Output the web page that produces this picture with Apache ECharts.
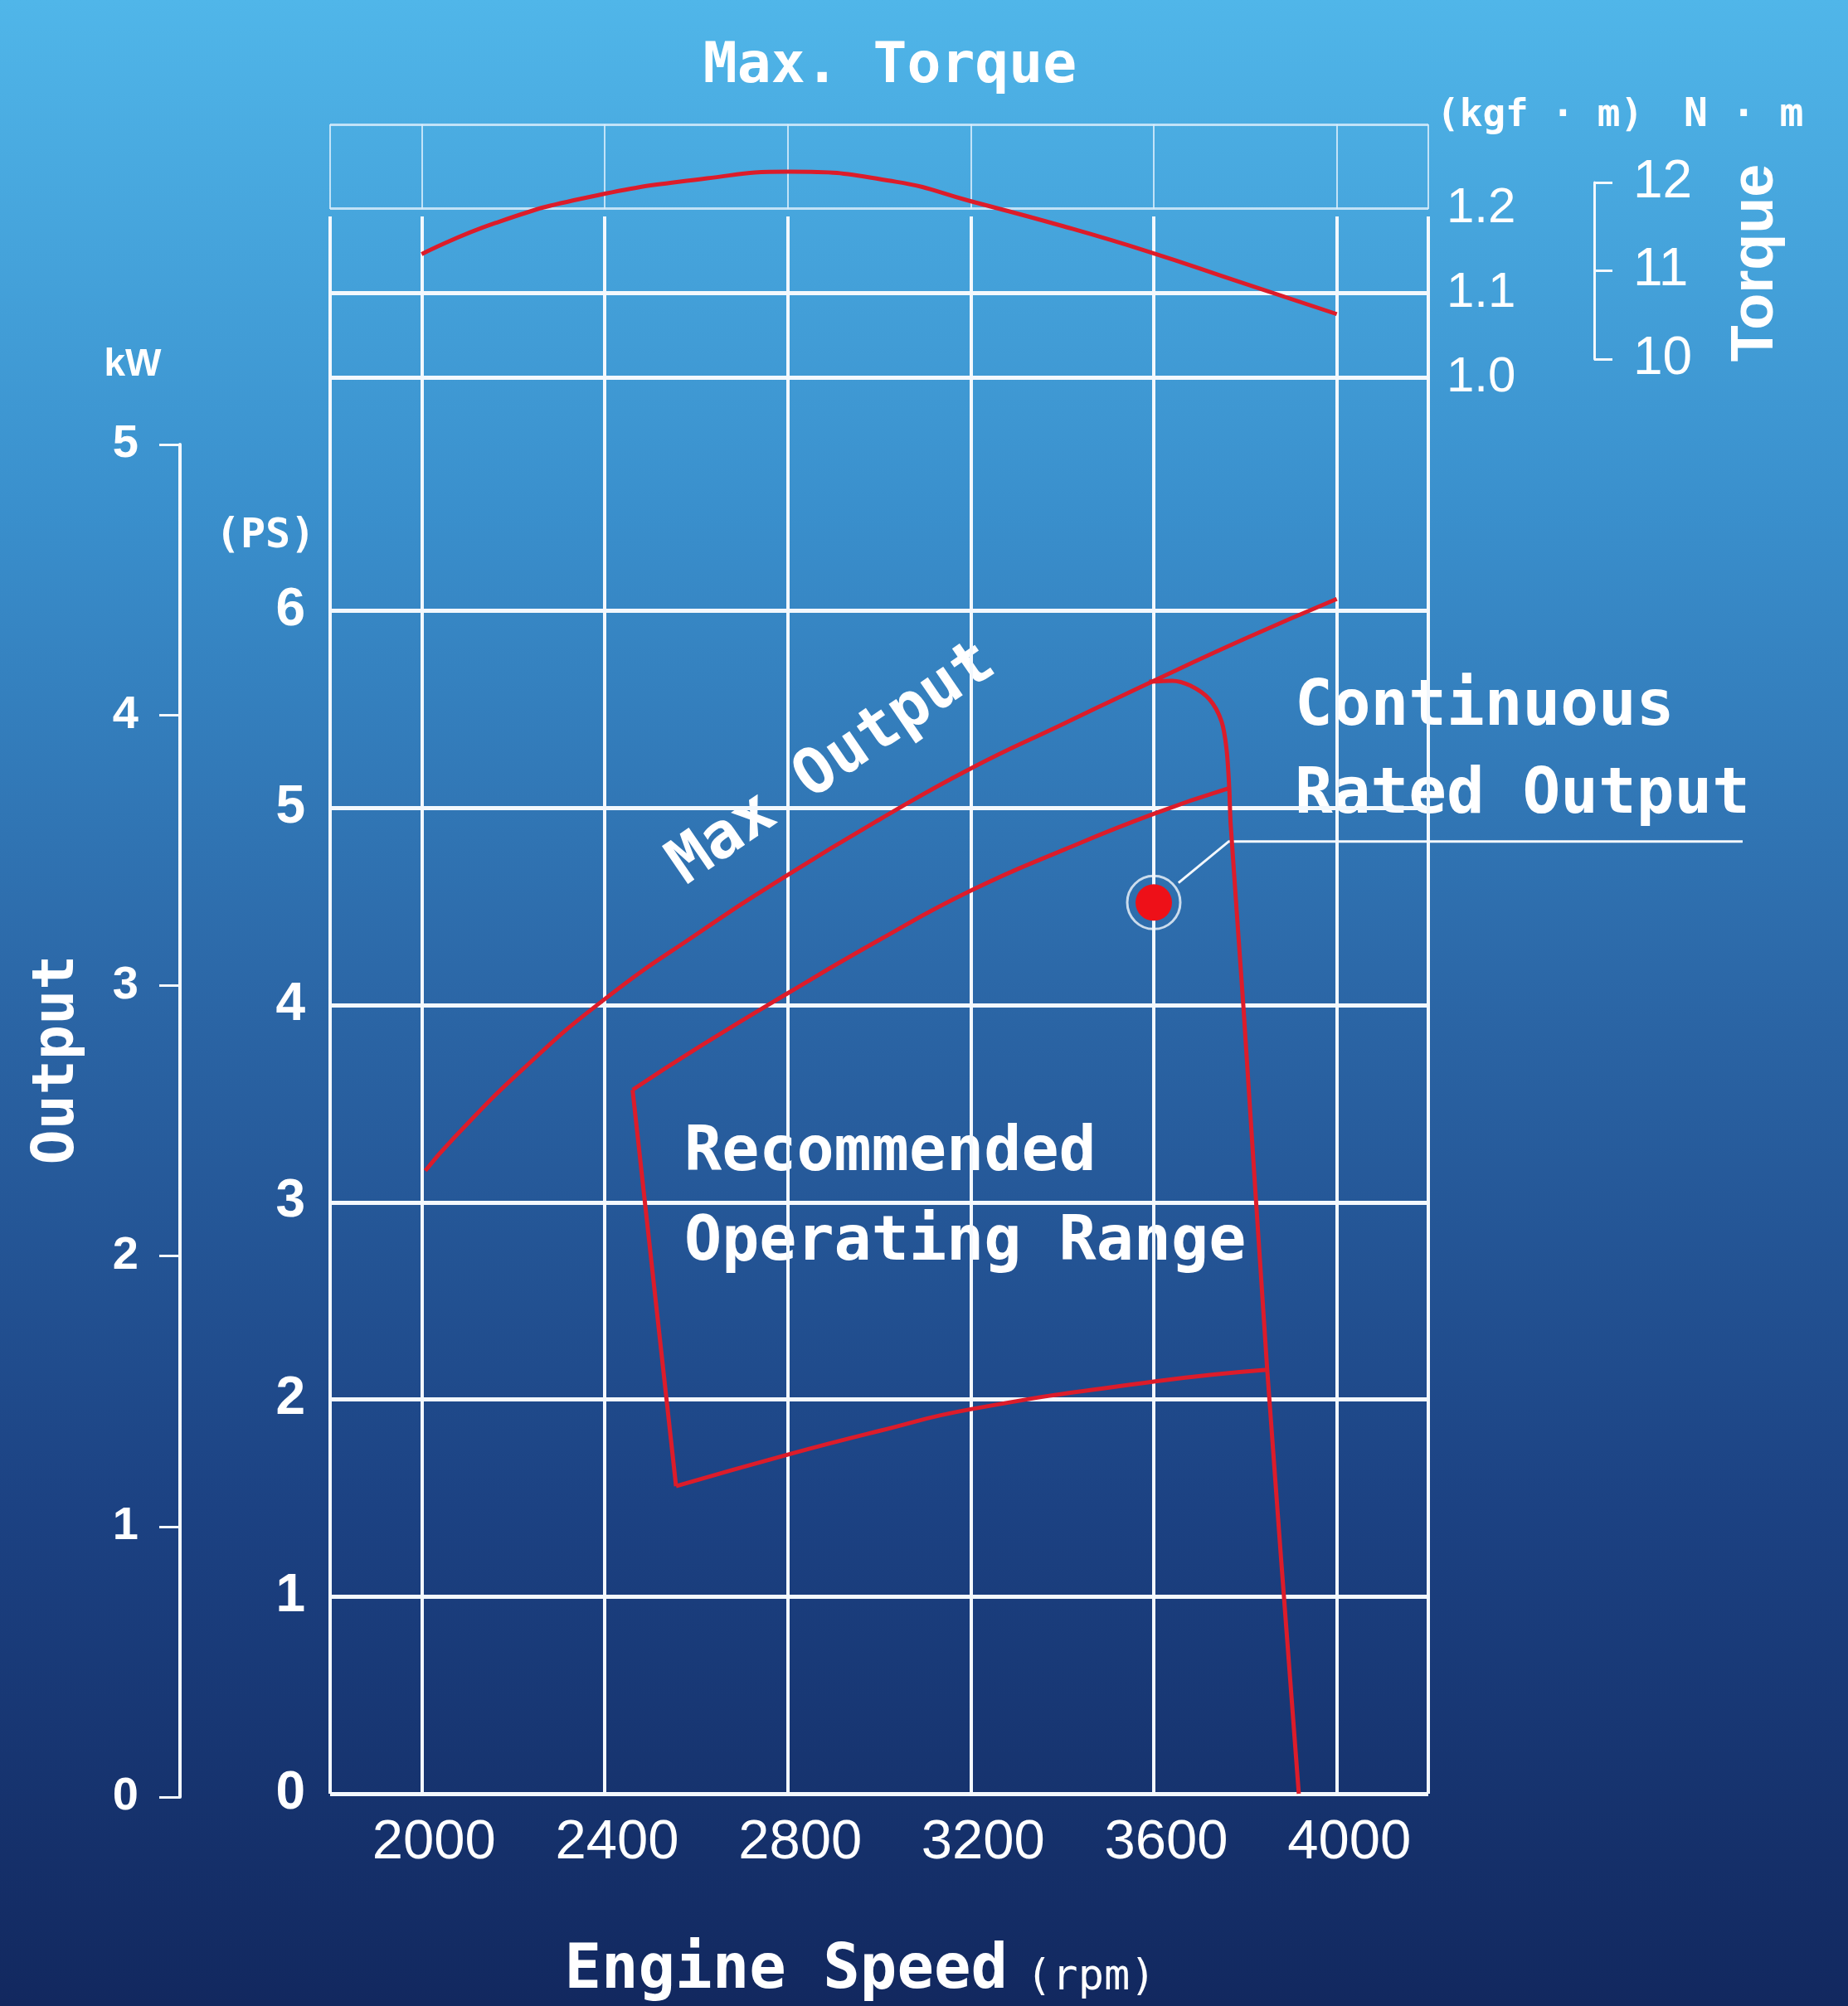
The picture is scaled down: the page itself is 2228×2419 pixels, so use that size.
<!DOCTYPE html>
<html>
<head>
<meta charset="utf-8">
<script src="https://cdn.jsdelivr.net/npm/echarts@6/dist/echarts.min.js"></script>
<style>
html,body{margin:0;padding:0;background:#2b66a6;}
#c{width:2228px;height:2419px;}
</style>
</head>
<body>
<div id="c"></div>
<script>
// ---------- data ----------
const rpmTicks = [2000, 2400, 2800, 3200, 3600, 4000];
const psTicks = [0, 1, 2, 3, 4, 5, 6];
const kwTicks = [0, 1, 2, 3, 4, 5];
const kgfTicks = [1.0, 1.1, 1.2];
const nmTicks = [10, 11, 12];

const torqueRpm = [2000, 2161, 2367, 2624, 2803, 3036, 3199, 3397, 3589, 3783, 4000];
const torqueKgf = [1.146, 1.183, 1.214, 1.236, 1.244, 1.232, 1.209, 1.180, 1.149, 1.114, 1.075];

const maxOutRpm = [2008, 2068, 2219, 2400, 2608, 2800, 3000, 3200, 3406, 3600, 3796, 4000];
const maxOutPs  = [3.16, 3.32, 3.67, 4.03, 4.37, 4.66, 4.94, 5.20, 5.43, 5.645, 5.855, 6.06];

const governorRpm = [3590, 3640, 3680, 3722, 3748, 3759, 3765, 3768, 3796, 3848, 3917];
const governorPs  = [5.64, 5.645, 5.62, 5.55, 5.44, 5.30, 5.10, 4.92, 3.99, 2.15, 0.0];

const rangeTopRpm = [2461, 2608, 2800, 3000, 3200, 3406, 3600, 3765];
const rangeTopPs  = [3.57, 3.79, 4.06, 4.33, 4.58, 4.79, 4.97, 5.10];

const rangeLeftRpm = [2461, 2556];
const rangeLeftPs  = [3.57, 1.56];

const rangeBottomRpm = [2556, 2800, 3000, 3200, 3600, 3848];
const rangeBottomPs  = [1.56, 1.72, 1.84, 1.95, 2.09, 2.15];

const ratedRpm = [3600];
const ratedPs  = [4.52];

const leaderRpm = [3654, 3764, 4887];
const leaderPs  = [4.62, 4.83, 4.83];

// ---------- helpers ----------
const pair = (xs, ys) => xs.map((x, i) => [x, ys[i]]);
const RPM_MIN = 1800, RPM_MAX = 4200, RPM_STEP = 200;
const PS_MAX = 8;
const WHITE = '#f3f8fd';
const LIGHT = 'rgba(215,236,252,0.85)';
const CLEAR = 'rgba(0,0,0,0)';
const RED = '#dc1c2a';

const rpmLineColors = (col) => {
  const out = [];
  for (let v = RPM_MIN; v <= RPM_MAX; v += RPM_STEP) {
    out.push((v === RPM_MIN || v === RPM_MAX || rpmTicks.includes(v)) ? col : CLEAR);
  }
  return out;
};
const psLineColors = [];
for (let v = 0; v <= PS_MAX; v += 1) psLineColors.push(psTicks.includes(v) ? WHITE : CLEAR);

const mono = 'DejaVu Sans Mono';
const sans = 'Liberation Sans';

const chart = echarts.init(document.getElementById('c'), null, {renderer: 'canvas'});

const redLine = (name, xs, ys, smooth) => ({
  name, type: 'line', xAxisIndex: 0, yAxisIndex: 0,
  smooth: smooth || false,
  showSymbol: false, z: 5, lineStyle: {color: RED, width: 5}, data: pair(xs, ys)
});

const option = {
  animation: false,
  backgroundColor: {
    type: 'linear', x: 0, y: 0, x2: 0, y2: 1,
    colorStops: [
      {offset: 0, color: '#50b6e9'},
      {offset: 0.25, color: '#3a90cd'},
      {offset: 0.5, color: '#2b66a6'},
      {offset: 0.75, color: '#1c4283'},
      {offset: 1, color: '#12285f'}
    ]
  },
  title: {
    text: 'Max. Torque',
    left: 1068, top: 42, textAlign: 'center',
    textStyle: {color: '#fff', fontFamily: mono, fontSize: 68, fontWeight: 'bold'}
  },
  grid: [
    {left: 398, right: 506, top: 261, bottom: 256, containLabel: false, outerBoundsMode: 'none'},
    {left: 398, right: 506, top: 150, bottom: 1964, containLabel: false, outerBoundsMode: 'none'},
    {left: 398, right: 506, top: 150, height: 102, containLabel: false, outerBoundsMode: 'none'},
    {left: 217, width: 2, top: 536, bottom: 252, containLabel: false, outerBoundsMode: 'none'},
    {left: 1922, width: 2, top: 220, bottom: 1986, containLabel: false, outerBoundsMode: 'none'}
  ],
  xAxis: [
    {
      gridIndex: 0, type: 'value', min: RPM_MIN, max: RPM_MAX, interval: RPM_STEP,
      axisLine: {show: false}, axisTick: {show: false},
      axisLabel: {
        color: '#fff', fontFamily: sans, fontSize: 67, margin: 26, padding: [0, 0, 0, 30],
        formatter: v => rpmTicks.includes(v) ? String(v) : '',
        showMinLabel: false, showMaxLabel: false
      },
      splitLine: {show: true, lineStyle: {color: rpmLineColors(WHITE), width: 4}}
    },
    {gridIndex: 1, type: 'value', min: RPM_MIN, max: RPM_MAX, show: false},
    {
      gridIndex: 2, type: 'value', min: RPM_MIN, max: RPM_MAX, interval: RPM_STEP,
      axisLine: {show: false}, axisTick: {show: false}, axisLabel: {show: false},
      splitLine: {show: true, lineStyle: {color: rpmLineColors(LIGHT), width: 2}}
    },
    {gridIndex: 3, type: 'value', min: 0, max: 1, show: false},
    {gridIndex: 4, type: 'value', min: 0, max: 1, show: false}
  ],
  yAxis: [
    {
      gridIndex: 0, type: 'value', min: 0, max: PS_MAX, interval: 1, position: 'left',
      axisLine: {show: false},
      axisTick: {show: false},
      axisLabel: {
        color: '#fff', fontFamily: sans, fontWeight: 'bold', fontSize: 64, margin: 30,
        formatter: v => psTicks.includes(v) ? String(v) : ''
      },
      splitLine: {show: true, lineStyle: {color: psLineColors, width: 5}}
    },
    {
      gridIndex: 1, type: 'value', min: 1.0, max: 1.3, interval: 0.1, position: 'right',
      axisLine: {show: false}, axisTick: {show: false},
      axisLabel: {
        color: '#fff', fontFamily: sans, fontSize: 60, margin: 22, padding: [0, 0, 44, 0],
        formatter: v => kgfTicks.some(t => Math.abs(t - v) < 1e-6) ? v.toFixed(1) : ''
      },
      splitLine: {show: true, lineStyle: {color: [WHITE, WHITE, CLEAR, CLEAR], width: 5}}
    },
    {
      gridIndex: 1, type: 'value', min: 1.0, max: 1.3, interval: 0.1, position: 'left',
      axisLine: {show: false}, axisTick: {show: false}, axisLabel: {show: false},
      splitLine: {show: true, lineStyle: {color: [CLEAR, CLEAR, LIGHT, LIGHT], width: 3}}
    },
    {
      gridIndex: 3, type: 'value', min: 0, max: 5, interval: 1, position: 'left',
      axisLine: {show: true, lineStyle: {color: WHITE, width: 4}},
      axisTick: {show: true, length: 25, lineStyle: {color: WHITE, width: 3}},
      axisLabel: {
        color: '#fff', fontFamily: sans, fontWeight: 'bold', fontSize: 56, margin: 50,
        formatter: v => kwTicks.includes(v) ? String(v) : ''
      },
      splitLine: {show: false}
    },
    {
      gridIndex: 4, type: 'value', min: 10, max: 12, interval: 1, position: 'right',
      axisLine: {show: true, lineStyle: {color: WHITE, width: 3}},
      axisTick: {show: true, length: 22, lineStyle: {color: WHITE, width: 3}},
      axisLabel: {
        color: '#fff', fontFamily: sans, fontSize: 64, margin: 45, padding: [0, 0, 16, 0],
        formatter: v => nmTicks.includes(v) ? String(v) : ''
      },
      splitLine: {show: false}
    },
    {gridIndex: 2, type: 'value', min: 0, max: 1, show: false}
  ],
  series: [
    {
      name: 'Max. Torque', type: 'line', xAxisIndex: 1, yAxisIndex: 1, smooth: 0.5,
      showSymbol: false, clip: false, z: 5,
      lineStyle: {color: RED, width: 5}, data: pair(torqueRpm, torqueKgf)
    },
    redLine('Max Output', maxOutRpm, maxOutPs, 0.5),
    redLine('Governor', governorRpm, governorPs, 0.3),
    redLine('Range top', rangeTopRpm, rangeTopPs, 0.5),
    redLine('Range left', rangeLeftRpm, rangeLeftPs, false),
    redLine('Range bottom', rangeBottomRpm, rangeBottomPs, 0.5),
    {
      name: 'Rated ring', type: 'scatter', xAxisIndex: 0, yAxisIndex: 0, symbol: 'circle',
      symbolSize: 64, z: 6,
      itemStyle: {color: CLEAR, borderColor: WHITE, borderWidth: 3}, data: pair(ratedRpm, ratedPs)
    },
    {
      name: 'Continuous Rated Output', type: 'scatter', xAxisIndex: 0, yAxisIndex: 0, symbol: 'circle',
      symbolSize: 44, z: 7, itemStyle: {color: '#ee1018', opacity: 1}, data: pair(ratedRpm, ratedPs)
    }
  ],
  graphic: [
    {id: 't1', type: 'text', x: 1732, y: 140, style: {text: '(kgf · m)', fill: '#fff', fontFamily: mono, fontWeight: 'bold', fontSize: 46, textAlign: 'left', textVerticalAlign: 'middle'}},
    {id: 't2', type: 'text', x: 2030, y: 140, style: {text: 'N · m', fill: '#fff', fontFamily: mono, fontWeight: 'bold', fontSize: 48, textAlign: 'left', textVerticalAlign: 'middle'}},
    {id: 't3', type: 'text', x: 2117, y: 317, rotation: Math.PI / 2, style: {text: 'Torque', fill: '#fff', fontFamily: sans, fontWeight: 'bold', fontSize: 72, textAlign: 'center', textVerticalAlign: 'middle'}},
    {id: 't4', type: 'text', x: 160, y: 440, style: {text: 'kW', fill: '#fff', fontFamily: sans, fontWeight: 'bold', fontSize: 46, textAlign: 'center', textVerticalAlign: 'middle'}},
    {id: 't5', type: 'text', x: 320, y: 647, style: {text: '(PS)', fill: '#fff', fontFamily: mono, fontWeight: 'bold', fontSize: 50, textAlign: 'center', textVerticalAlign: 'middle'}},
    {id: 't6', type: 'text', x: 70, y: 1278, rotation: Math.PI / 2, style: {text: 'Output', fill: '#fff', fontFamily: mono, fontWeight: 'bold', fontSize: 70, textAlign: 'center', textVerticalAlign: 'middle'}},
    {id: 't7', type: 'text', x: 1037, y: 2378, style: {
      text: '{a|Engine Speed}{b|(rpm)}', textAlign: 'center', textVerticalAlign: 'middle',
      rich: {
        a: {fill: '#fff', fontFamily: mono, fontWeight: 'bold', fontSize: 74},
        b: {fill: '#fff', fontFamily: mono, fontSize: 52, padding: [14, 0, 0, 22]}
      }
    }},
    {id: 't8', type: 'text', x: 1004, y: 922, rotation: 34.5 * Math.PI / 180, style: {text: 'Max Output', fill: '#fff', fontFamily: mono, fontWeight: 'bold', fontSize: 76, textAlign: 'center', textVerticalAlign: 'middle'}},
    {id: 't9', type: 'text', x: 825, y: 1392, style: {text: 'Recommended', fill: '#fff', fontFamily: mono, fontWeight: 'bold', fontSize: 75, textAlign: 'left', textVerticalAlign: 'middle'}},
    {id: 't10', type: 'text', x: 825, y: 1500, style: {text: 'Operating Range', fill: '#fff', fontFamily: mono, fontWeight: 'bold', fontSize: 75, textAlign: 'left', textVerticalAlign: 'middle'}},
    {id: 't11', type: 'text', x: 1561, y: 854, style: {text: 'Continuous', fill: '#fff', fontFamily: mono, fontWeight: 'bold', fontSize: 76, textAlign: 'left', textVerticalAlign: 'middle'}},
    {id: 't12', type: 'text', x: 1561, y: 960, style: {text: 'Rated Output', fill: '#fff', fontFamily: mono, fontWeight: 'bold', fontSize: 76, textAlign: 'left', textVerticalAlign: 'middle'}}
  ]
};
chart.setOption(option);

// leader line from the rated point to its label, placed through the axis scales
const leaderPts = leaderRpm.map((x, i) => chart.convertToPixel({gridIndex: 0}, [x, leaderPs[i]]));
chart.setOption({
  graphic: [{
    id: 'leader', type: 'polyline', z: 4,
    shape: {points: leaderPts},
    style: {stroke: WHITE, lineWidth: 3, fill: null}
  }]
});
</script>
</body>
</html>
